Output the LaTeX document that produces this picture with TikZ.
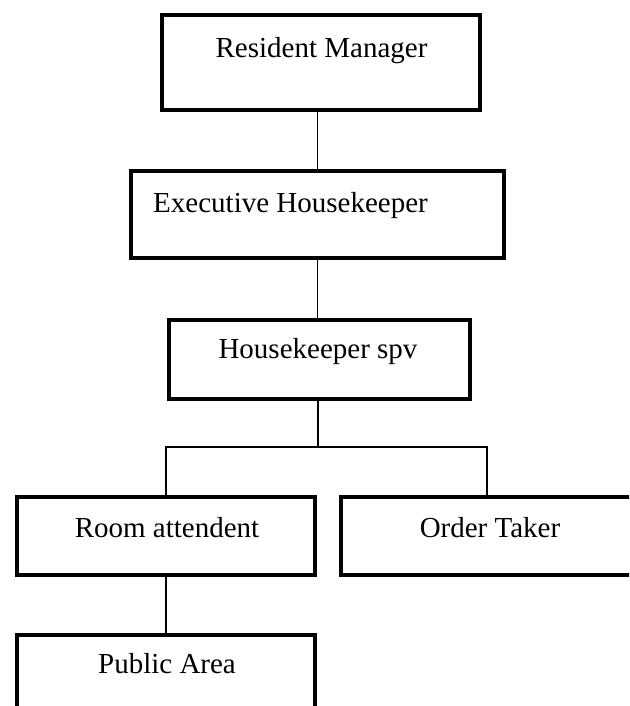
\documentclass[tikz,border=0pt]{standalone}
\usepackage{fontspec}
\setmainfont{Liberation Serif}
\begin{document}
\begin{tikzpicture}[x=0.75pt,y=-0.75pt,
  box/.style={draw,line width=3.4pt,rectangle,inner sep=0pt,outer sep=0pt},
  lbl/.style={anchor=base,inner sep=0pt,font=\fontsize{21.75}{26}\selectfont},
  conn/.style={line width=1.1pt}]
\useasboundingbox (0,0) rectangle (629,706);
\clip (0,0) rectangle (629,706);
\node[box,minimum width=318*0.75pt,minimum height=95*0.75pt] (rm) at (321,62.5) {};
\node[box,minimum width=373*0.75pt,minimum height=87*0.75pt] (eh) at (317.5,214.5) {};
\node[box,minimum width=301*0.75pt,minimum height=79*0.75pt] (hs) at (319.5,359.5) {};
\node[box,minimum width=298*0.75pt,minimum height=78*0.75pt] (ra) at (166,536) {};
\node[box,minimum width=292*0.75pt,minimum height=78*0.75pt] (ot) at (487,536) {};
\node[box,minimum width=298*0.75pt,minimum height=85*0.75pt] (pa) at (166,677.5) {};
\node[lbl] (trm) at (321.5,58) {Resident Manager};
\node[lbl] (teh) at (290.5,212) {Executive Housekeeper};
\node[lbl] (ths) at (318,358) {Housekeeper spv};
\node[lbl] (tra) at (167,537) {Room attendent};
\node[lbl] (tot) at (490,537) {Order Taker};
\node[lbl] (tpa) at (167,673) {Public Area};
\coordinate (j) at (318,447);
\draw[conn] (rm.south -| eh.north) -- (eh.north);
\draw[conn] (eh.south) -- (eh.south |- hs.north);
\draw[conn] (hs.south -| j) -- (j);
\draw[conn] (ra.north) |- (j) -| (ot.north);
\draw[conn] (ra.south) -- (pa.north);
\end{tikzpicture}
\end{document}
